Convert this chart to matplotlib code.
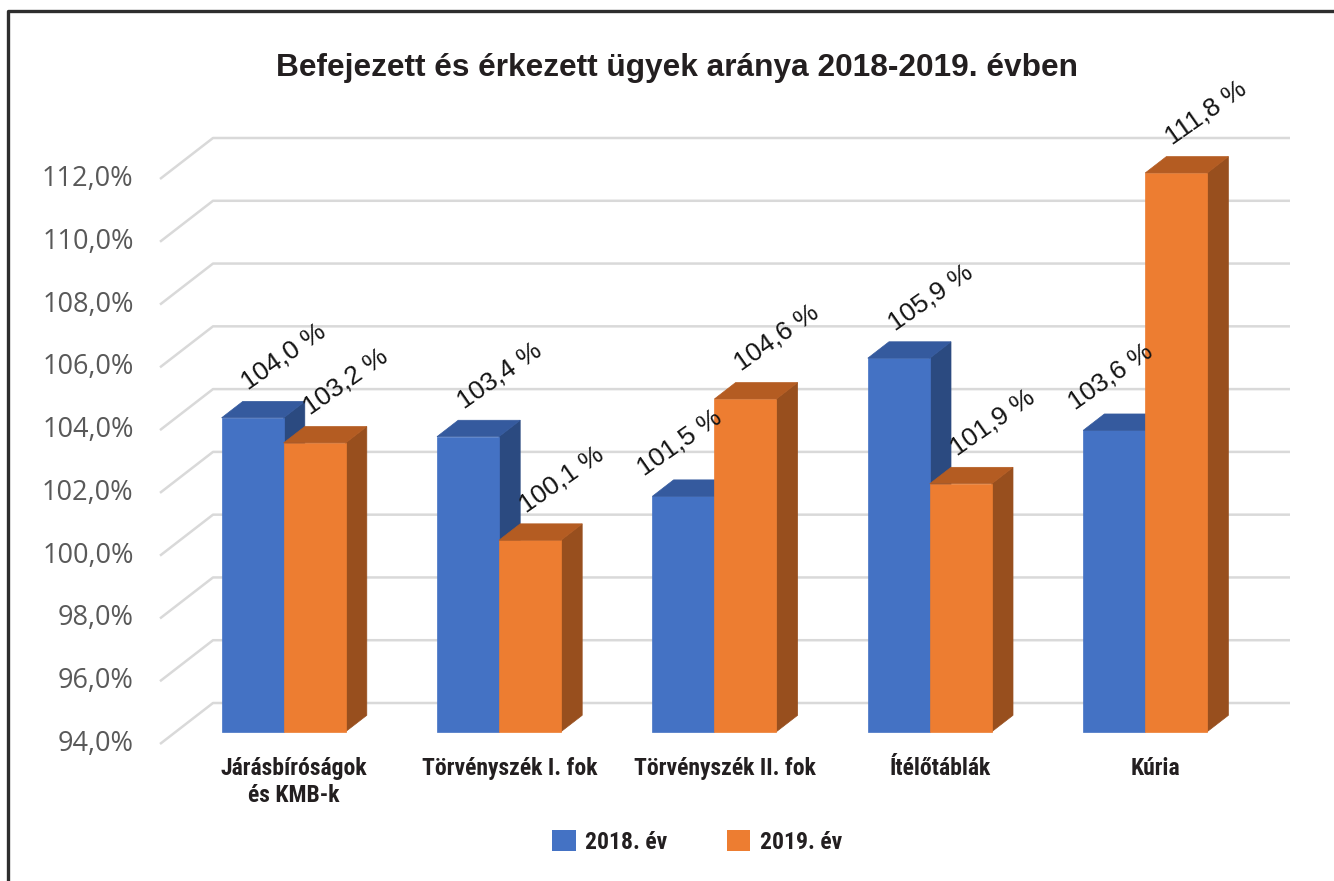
import numpy as np
import matplotlib
matplotlib.use("Agg")
import matplotlib.pyplot as plt
from matplotlib.patches import Polygon, Patch
from matplotlib.lines import Line2D
from matplotlib import font_manager
from matplotlib.font_manager import FontProperties

categories = ["Járásbíróságok\nés KMB-k", "Törvényszék I. fok", "Törvényszék II. fok",
              "Ítélőtáblák", "Kúria"]
series_names = ["2018. év", "2019. év"]
values_2018 = [104.0, 103.4, 101.5, 105.9, 103.6]
values_2019 = [103.2, 100.1, 104.6, 101.9, 111.8]
yticks = [94, 96, 98, 100, 102, 104, 106, 108, 110, 112]
title = "Befejezett és érkezett ügyek aránya 2018-2019. évben"

front_cols = ["#4472c4", "#ed7d31"]
top_cols = ["#355a9e", "#b45c22"]
side_cols = ["#2b4a80", "#984f1e"]

# look for a condensed bold face for the category labels / legend
cond_path = None
files = [f.fname for f in font_manager.fontManager.ttflist]
for key in ["LiberationSansNarrow-Bold.", "RobotoCondensed-Bold", "OpenSans_Condensed-Bold",
            "OpenSansCondensed-Bold", "DejaVuSansCondensed-Bold."]:
    hits = [p for p in files if key.lower() in p.lower().replace(" ", "")]
    if hits:
        cond_path = hits[0]
        break
if cond_path is None:
    hits = [p for p in files if "condensed" in p.lower() and "bold" in p.lower()
            and "oblique" not in p.lower() and "italic" not in p.lower()]
    if hits:
        cond_path = hits[0]


def cond_font(size):
    if cond_path:
        return FontProperties(fname=cond_path, size=size)
    return FontProperties(family="Liberation Sans", weight="bold", size=size * 0.9)


W, H = 1334, 881
fig = plt.figure(figsize=(W / 100, H / 100), dpi=100)
ax = fig.add_axes([213 / W, 178 / H, 1077 / W, 565 / H])
ymin, ymax = yticks[0], yticks[-1]
ax.set_xlim(0, len(categories))
ax.set_ylim(ymin, ymax)
ax.axis("off")

# depth vector of the fake 3d floor, in data units (back plane -> front)
px_x = 1077 / len(categories)
px_y = 565 / (ymax - ymin)
DX = -53 / px_x
DY = -41 / px_y
bw = 62 / px_x
f_front, f_back = 0.7, 0.3

# gridlines: left wall diagonal + back wall
for v in yticks:
    ax.plot([DX, 0, len(categories)], [v + DY, v, v], color="#d9d9d9", lw=1.8,
            clip_on=False, zorder=1, solid_capstyle="butt")
    ax.annotate(f"{v:.1f}%".replace(".", ","), xy=(DX, v + DY), xytext=(-19, 0),
                textcoords="offset points", ha="right", va="center",
                fontsize=19.5, color="#595959", family="Open Sans", annotation_clip=False)


def bar3d(xl, v, k):
    xr = xl + bw
    front = [(xl + f_front * DX, ymin + f_front * DY), (xr + f_front * DX, ymin + f_front * DY),
             (xr + f_front * DX, v + f_front * DY), (xl + f_front * DX, v + f_front * DY)]
    top = [(xl + f_front * DX, v + f_front * DY), (xr + f_front * DX, v + f_front * DY),
           (xr + f_back * DX, v + f_back * DY), (xl + f_back * DX, v + f_back * DY)]
    side = [(xr + f_front * DX, ymin + f_front * DY), (xr + f_back * DX, ymin + f_back * DY),
            (xr + f_back * DX, v + f_back * DY), (xr + f_front * DX, v + f_front * DY)]
    for pts, c in [(side, side_cols[k]), (front, front_cols[k]), (top, top_cols[k])]:
        ax.add_patch(Polygon(pts, closed=True, facecolor=c, edgecolor=c, lw=0.5,
                             clip_on=False, zorder=3))


for i, cat in enumerate(categories):
    c = i + 0.5
    for k, vals in enumerate([values_2018, values_2019]):
        xl = c - bw + k * bw
        bar3d(xl, vals[i], k)
        # labels start above the back-left top corner; shift left if the neighbour is taller
        dx_off, dy_off = 4, 8
        if k == 0 and values_2019[i] > values_2018[i]:
            dx_off, dy_off = -21, 3
        ax.annotate(f"{vals[i]:.1f} %".replace(".", ","),
                    xy=(xl + f_back * DX, vals[i] + f_back * DY),
                    xytext=(dx_off, dy_off), textcoords="offset points",
                    rotation=35, rotation_mode="anchor", ha="left", va="baseline",
                    fontsize=19, color="#141414", family="Liberation Sans",
                    annotation_clip=False, zorder=5)
    for j, line in enumerate(cat.split("\n")):
        ax.annotate(line, xy=(c + 0.5 * DX, ymin), xytext=(0, -52 - 19.5 * j),
                    textcoords="offset points", ha="center", va="baseline",
                    fontproperties=cond_font(17), color="#231f20", annotation_clip=False)

fig.text(677 / W, 1 - 68 / H, title, ha="center", va="center", fontsize=22.8,
         fontweight="bold", color="#231f20", family="Liberation Sans")

handles = [Patch(facecolor=front_cols[k], edgecolor="none") for k in range(2)]
leg = fig.legend(handles, series_names, loc="center", bbox_to_anchor=(697 / W, 1 - 842 / H),
                 ncol=2, frameon=False, handlelength=1.0, handleheight=1.0,
                 handletextpad=0.4, columnspacing=2.5, prop=cond_font(17))
for t in leg.get_texts():
    t.set_color("#231f20")

# outer frame (top and left visible)
fig.add_artist(Line2D([8 / W, 8 / W, 1], [0, 1 - 11 / H, 1 - 11 / H], transform=fig.transFigure,
                      color="#2e2e2e", lw=2.4))

fig.savefig("out.png", dpi=100)
